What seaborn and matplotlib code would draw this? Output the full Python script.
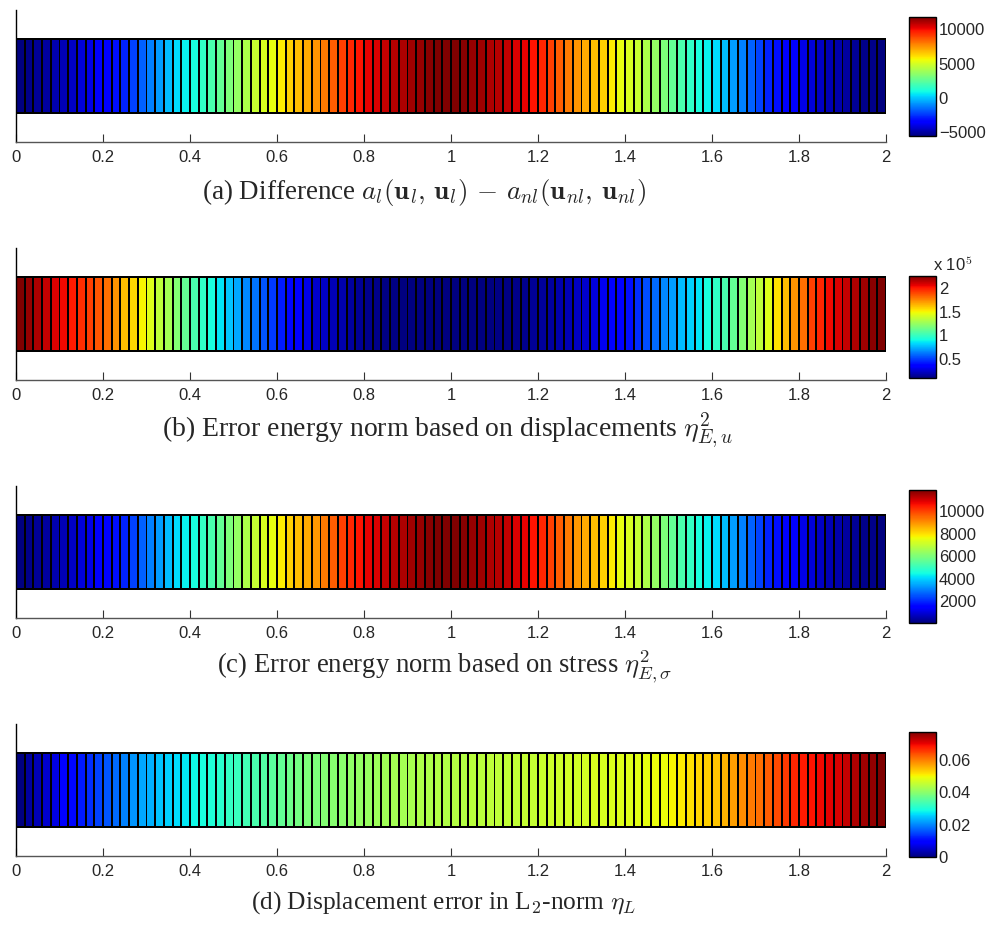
import numpy as np
import pandas as pd
import matplotlib
matplotlib.use("Agg")
import matplotlib.pyplot as plt
import seaborn as sns

sns.set_style("white")
plt.rcParams['font.family'] = ['Liberation Sans', 'DejaVu Sans']
plt.rcParams['mathtext.fontset'] = 'cm'

# ---- data (one value per element, 100 elements on [0, 2]) ----
x_tick_labels = ["0", "0.2", "0.4", "0.6", "0.8", "1", "1.2", "1.4", "1.6", "1.8", "2"]

diff_energy = [
    -5600, -5430, -5250, -5080, -4900, -4730, -4560, -4210, -4030, -3690,
    -3430, -3160, -2820, -2290, -1770, -1250, -730, -210, 320, 660,
    1010, 1530, 2060, 2580, 3100, 3620, 4140, 4670, 5010, 5360,
    5880, 6410, 6750, 7100, 7450, 7970, 8490, 9020, 9540, 9890,
    10230, 10410, 10760, 10930, 11100, 11280, 11450, 11630, 11800, 11800,
    11800, 11630, 11450, 11280, 11100, 10930, 10760, 10410, 10230, 9890,
    9540, 9020, 8490, 7970, 7450, 7100, 6750, 6410, 5880, 5360,
    5010, 4670, 4140, 3620, 3100, 2580, 2060, 1530, 1010, 660,
    320, -210, -730, -1250, -1770, -2290, -2820, -3160, -3430, -3690,
    -4030, -4210, -4560, -4730, -4900, -5080, -5250, -5430, -5430, -5600,
]

err_disp = [
    225000, 220700, 216400, 212100, 207800, 203500, 199200, 194900, 190600, 186300,
    179850, 171250, 162650, 156200, 149750, 143300, 134700, 128250, 119650, 111050,
    104600, 98150, 91700, 85250, 78800, 72350, 65900, 61600, 55150, 48700,
    42250, 37950, 33650, 29350, 25050, 22900, 20750, 18600, 16450, 14300,
    13225, 12150, 11600, 11075, 10500, 10200, 10000, 10100, 10000, 10000,
    10000, 10200, 10000, 10300, 10500, 11075, 11600, 12150, 13225, 14300,
    15375, 16450, 18600, 20750, 22900, 25050, 28275, 31500, 34725, 36875,
    40100, 46550, 53000, 59450, 65900, 70200, 76650, 80950, 85250, 91700,
    98150, 104600, 111050, 119650, 128250, 134700, 143300, 154050, 162650, 171250,
    179850, 190600, 197050, 203500, 207800, 212100, 216400, 218550, 222850, 225000,
]

err_stress = [
    100, 220, 335, 455, 570, 690, 805, 1040, 1160, 1390,
    1570, 1745, 1980, 2330, 2685, 3040, 3390, 3740, 4095, 4330,
    4565, 4920, 5270, 5620, 5975, 6330, 6680, 7030, 7270, 7500,
    7855, 8210, 8440, 8680, 8910, 9265, 9620, 9970, 10320, 10560,
    10790, 10910, 11145, 11265, 11380, 11500, 11615, 11735, 11850, 11850,
    11850, 11735, 11615, 11500, 11380, 11265, 11145, 10910, 10790, 10560,
    10320, 9970, 9620, 9265, 8910, 8680, 8440, 8210, 7855, 7500,
    7270, 7030, 6680, 6330, 5975, 5620, 5270, 4920, 4565, 4330,
    4095, 3740, 3390, 3040, 2685, 2330, 1980, 1745, 1570, 1390,
    1160, 1040, 805, 690, 570, 455, 335, 220, 220, 100,
]

err_l2 = [
    0.0000, 0.0023, 0.0039, 0.0054, 0.0069, 0.0085, 0.0100, 0.0116, 0.0131, 0.0146,
    0.0162, 0.0177, 0.0193, 0.0208, 0.0223, 0.0231, 0.0246, 0.0254, 0.0262, 0.0273,
    0.0285, 0.0293, 0.0300, 0.0308, 0.0316, 0.0323, 0.0331, 0.0339, 0.0347, 0.0354,
    0.0362, 0.0370, 0.0377, 0.0385, 0.0385, 0.0393, 0.0397, 0.0400, 0.0404, 0.0408,
    0.0412, 0.0416, 0.0420, 0.0424, 0.0424, 0.0427, 0.0431, 0.0431, 0.0435, 0.0435,
    0.0439, 0.0439, 0.0443, 0.0443, 0.0447, 0.0447, 0.0450, 0.0450, 0.0454, 0.0454,
    0.0458, 0.0462, 0.0462, 0.0464, 0.0466, 0.0467, 0.0470, 0.0471, 0.0474, 0.0476,
    0.0477, 0.0481, 0.0485, 0.0489, 0.0493, 0.0501, 0.0508, 0.0516, 0.0524, 0.0531,
    0.0539, 0.0554, 0.0570, 0.0585, 0.0601, 0.0608, 0.0624, 0.0639, 0.0655, 0.0670,
    0.0678, 0.0685, 0.0693, 0.0701, 0.0708, 0.0724, 0.0739, 0.0747, 0.0755, 0.0770,
]

cbar_ticks_a = [-5000, 0, 5000, 10000]
cbar_labels_a = ["\u22125000", "0", "5000", "10000"]
cbar_ticks_b = [50000, 100000, 150000, 200000]
cbar_labels_b = ["0.5", "1", "1.5", "2"]
cbar_ticks_c = [2000, 4000, 6000, 8000, 10000]
cbar_labels_c = ["2000", "4000", "6000", "8000", "10000"]
cbar_ticks_d = [0, 0.02, 0.04, 0.06]
cbar_labels_d = ["0", "0.02", "0.04", "0.06"]

captions = [
    r"(a) Difference $a_l(\mathbf{u}_l,\,\mathbf{u}_l)\,-\,a_{nl}(\mathbf{u}_{nl},\,\mathbf{u}_{nl})$",
    r"(b) Error energy norm based on displacements $\eta^2_{E,u}$",
    r"(c) Error energy norm based on stress $\eta^2_{E,\sigma}$",
    r"(d) Displacement error in L$_2$-norm $\eta_L$",
]

# ---- figure ----
W, H = 996, 925
fig = plt.figure(figsize=(W / 100, H / 100), dpi=100)

def fx(px):
    return px / W

def fy_box(top, bottom):
    return 1 - bottom / H, (bottom - top) / H

panels = [
    (diff_energy, cbar_ticks_a, cbar_labels_a, (10, 142), (17, 136), (424, 192, 19.5)),
    (err_disp, cbar_ticks_b, cbar_labels_b, (248, 380), (276, 378), (448, 430, 20)),
    (err_stress, cbar_ticks_c, cbar_labels_c, (486, 618), (490, 623), (445, 667, 19.2)),
    (err_l2, cbar_ticks_d, cbar_labels_d, (724, 856), (732, 857), (444, 903, 18.3)),
]

for i, (vals, cticks, clabels, (atop, abot), (ctop, cbot), (capx, capy, capfs)) in enumerate(panels):
    b, h = fy_box(atop, abot)
    ax = fig.add_axes([fx(16), b, fx(870), h])
    cb_b, cb_h = fy_box(ctop, cbot)
    cax = fig.add_axes([fx(909), cb_b, fx(27), cb_h])
    df = pd.DataFrame([vals])
    sns.heatmap(df, ax=ax, cmap="jet", linewidths=0.72, linecolor="black",
                cbar_ax=cax, xticklabels=False, yticklabels=False)
    ax.collections[0].set_snap(False)
    ax.set_ylim(1.39, -0.39)
    ax.set_xlim(0, len(vals))
    ax.set_xticks(np.linspace(0, len(vals), len(x_tick_labels)))
    ax.set_xticklabels(x_tick_labels, fontsize=12)
    ax.set_yticks([])
    for s in ["top", "right"]:
        ax.spines[s].set_visible(False)
    ax.spines["left"].set_visible(True)
    ax.spines["left"].set_color("black")
    ax.spines["left"].set_linewidth(1.0)
    ax.spines["bottom"].set_visible(True)
    ax.spines["bottom"].set_color("#555555")
    ax.spines["bottom"].set_linewidth(1.0)
    ax.tick_params(axis="x", direction="in", length=6, width=0.8, color="#333333",
                   bottom=True, pad=6)

    cax.set_yticks(cticks)
    cax.set_yticklabels(clabels, fontsize=12)
    cax.tick_params(axis="y", direction="in", length=3, width=0.6, left=True, right=True,
                    pad=2)
    cbar = ax.collections[0].colorbar
    cbar.outline.set_edgecolor("black")
    cbar.outline.set_linewidth(1.0)

    fig.text(fx(capx), 1 - capy / H, captions[i], ha="center", va="center",
             fontsize=capfs, family=["Liberation Serif", "DejaVu Serif"])

# exponent label of colorbar (b)
fig.text(fx(933), 1 - 264 / H, r"x 10$^5$", ha="left", va="center", fontsize=12)

fig.savefig("out.png", dpi=100)
